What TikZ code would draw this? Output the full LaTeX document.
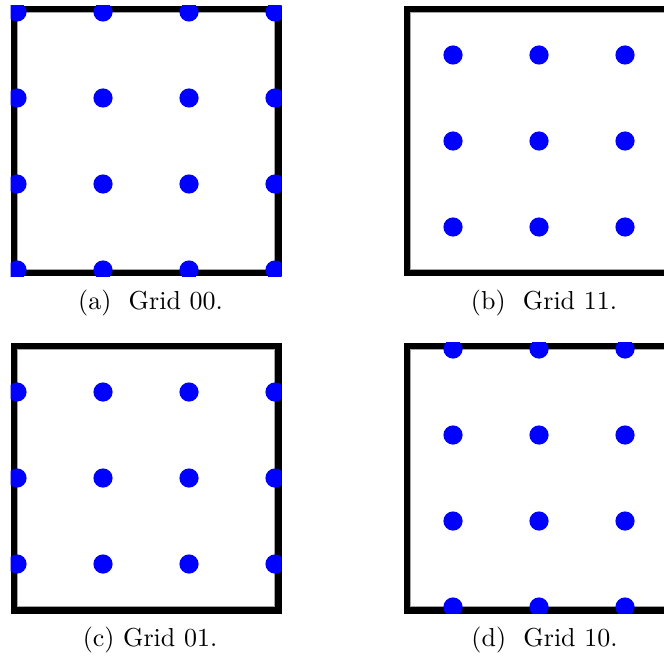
\documentclass[tikz,border=0pt]{standalone}
\usepackage{tikz}

\begin{document}
\begin{tikzpicture}[
  x=0.385pt,
  y=-0.385pt,
  every node/.style={font=\normalsize},
  frame line/.style={draw=black,line width=2.5pt},
  inner edge/.style={draw=black!35,line width=0.35pt},
  grid dot/.style={fill=blue},
  caption label/.style={anchor=base,inner sep=0pt},
]
\useasboundingbox (0,0) rectangle (664,661);
% panels: offset of panel, shift of dots in x and y
\foreach \px/\py/\dx/\dy in {17/12/0/0, 410/12/43/43, 17/349/0/43, 410/349/43/0} {
  \begin{scope}[shift={(\px,\py)}]
    \draw[frame line] (-3.25,-3.25) rectangle (261.25,261.25);
    \draw[inner edge] (0.5,0.5) rectangle (257.5,257.5);
    \clip (-6.5,-6.5) rectangle (264.5,264.5);
    \foreach \i in {0,...,3}
      \foreach \j in {0,...,3}
        \fill[grid dot] (\dx+86*\i,\dy+86*\j) circle (9.6);
  \end{scope}
}
\node[caption label] (capA) at (150.5,309.5) {(a)~ Grid 00.};
\node[caption label] (capB) at (544,309.5) {(b)~ Grid 11.};
\node[caption label] (capC) at (150,646.5) {(c) Grid 01.};
\node[caption label] (capD) at (544.5,646.5) {(d)~ Grid 10.};
\end{tikzpicture}
\end{document}
